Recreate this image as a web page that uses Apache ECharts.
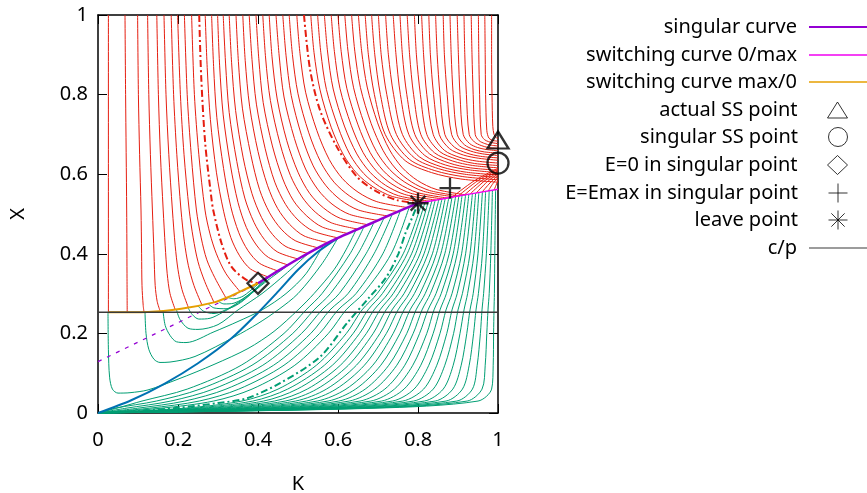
<!DOCTYPE html>
<html><head><meta charset="utf-8">
<script src="https://cdn.jsdelivr.net/npm/echarts@6/dist/echarts.min.js"></script>
<style>html,body{margin:0;padding:0;background:#fff}#c{width:867px;height:493px}</style>
</head><body><div id="c"></div>
<script>
// ---- tick labels ----
const xTicks = [0, 0.2, 0.4, 0.6, 0.8, 1];
const yTicks = [0, 0.2, 0.4, 0.6, 0.8, 1];

// ---- red trajectories (K, X) ----
const redLeft = [
 [[0.026,1],[0.026,0.253]],
 [[0.0675,1],[0.069,0.8],[0.0717,0.51],[0.0725,0.35],[0.073,0.253]],
 [[0.099,1],[0.101,0.8],[0.104,0.65],[0.1075,0.51],[0.109,0.4],[0.11,0.32],[0.113,0.27],[0.115,0.254]],
 [[0.124,1],[0.127,0.8],[0.131,0.65],[0.136,0.51],[0.14,0.4],[0.143,0.32],[0.148,0.28],[0.155,0.257]],
 [[0.147,1],[0.151,0.8],[0.156,0.65],[0.163,0.51],[0.168,0.42],[0.173,0.35],[0.18,0.3],[0.193,0.26]],
 [[0.165,1],[0.17,0.8],[0.177,0.65],[0.186,0.51],[0.193,0.42],[0.2,0.36],[0.21,0.31],[0.226,0.265]],
 [[0.183,1],[0.189,0.8],[0.197,0.65],[0.2075,0.51],[0.216,0.43],[0.226,0.37],[0.24,0.32],[0.26,0.271]],
 [[0.199,1],[0.206,0.8],[0.215,0.65],[0.228,0.51],[0.238,0.44],[0.25,0.38],[0.267,0.33],[0.29,0.278]],
 [[0.216,1],[0.223,0.8],[0.233,0.65],[0.246,0.51],[0.258,0.44],[0.272,0.385],[0.292,0.34],[0.32,0.289]],
 [[0.234,1],[0.241,0.8],[0.252,0.65],[0.2675,0.51],[0.28,0.45],[0.296,0.4],[0.32,0.35],[0.355,0.305]]
];
const redDashLeft = [[0.253,1],[0.258,0.845],[0.268,0.678],[0.283,0.544],[0.288,0.51],[0.309,0.426],[0.334,0.367],[0.372,0.334],[0.4,0.326]];
const redMid = [
 [[0.268,1],[0.273,0.868],[0.281,0.737],[0.296,0.605],[0.314,0.507],[0.332,0.441],[0.354,0.395],[0.381,0.362],[0.425,0.342]],
 [[0.284,1],[0.289,0.871],[0.297,0.743],[0.314,0.614],[0.332,0.518],[0.352,0.453],[0.375,0.408],[0.404,0.376],[0.45,0.357]],
 [[0.299,1],[0.304,0.874],[0.313,0.749],[0.331,0.623],[0.35,0.529],[0.371,0.466],[0.396,0.422],[0.426,0.391],[0.475,0.372]],
 [[0.313,1],[0.319,0.877],[0.328,0.755],[0.347,0.632],[0.367,0.54],[0.39,0.479],[0.416,0.436],[0.448,0.405],[0.5,0.387]],
 [[0.328,1],[0.334,0.88],[0.344,0.76],[0.363,0.641],[0.385,0.551],[0.409,0.491],[0.436,0.449],[0.47,0.418],[0.525,0.401]],
 [[0.345,1],[0.351,0.883],[0.361,0.766],[0.382,0.649],[0.404,0.561],[0.429,0.503],[0.458,0.462],[0.493,0.433],[0.55,0.415]],
 [[0.362,1],[0.368,0.886],[0.379,0.771],[0.4,0.657],[0.424,0.571],[0.449,0.514],[0.479,0.474],[0.515,0.445],[0.575,0.428]],
 [[0.378,1],[0.385,0.888],[0.396,0.776],[0.418,0.664],[0.442,0.58],[0.469,0.524],[0.5,0.485],[0.538,0.457],[0.6,0.44]],
 [[0.395,1],[0.402,0.89],[0.413,0.78],[0.436,0.671],[0.462,0.588],[0.489,0.533],[0.522,0.495],[0.561,0.467],[0.625,0.451]],
 [[0.412,1],[0.419,0.892],[0.431,0.785],[0.455,0.677],[0.481,0.597],[0.51,0.543],[0.543,0.505],[0.583,0.478],[0.65,0.462]],
 [[0.428,1],[0.435,0.895],[0.448,0.789],[0.472,0.684],[0.5,0.605],[0.529,0.552],[0.564,0.515],[0.606,0.489],[0.675,0.473]],
 [[0.445,1],[0.453,0.897],[0.465,0.794],[0.491,0.69],[0.519,0.613],[0.55,0.561],[0.585,0.525],[0.629,0.499],[0.7,0.484]],
 [[0.462,1],[0.47,0.899],[0.483,0.798],[0.509,0.697],[0.538,0.621],[0.57,0.571],[0.607,0.535],[0.651,0.51],[0.725,0.495]],
 [[0.478,1],[0.486,0.901],[0.5,0.802],[0.527,0.704],[0.557,0.63],[0.59,0.58],[0.628,0.546],[0.674,0.521],[0.75,0.506]],
 [[0.497,1],[0.505,0.903],[0.519,0.806],[0.547,0.71],[0.578,0.637],[0.611,0.589],[0.65,0.555],[0.697,0.531],[0.775,0.516]]
];
const redDashRight = [[0.515,1],[0.53,0.864],[0.555,0.761],[0.597,0.669],[0.647,0.594],[0.697,0.556],[0.747,0.535],[0.8,0.527]];
const redToSwitch = [
 [[0.532,1],[0.54,0.906],[0.555,0.812],[0.583,0.718],[0.614,0.648],[0.648,0.601],[0.688,0.568],[0.736,0.544],[0.815,0.53]],
 [[0.549,1],[0.557,0.906],[0.571,0.813],[0.6,0.719],[0.63,0.649],[0.664,0.602],[0.704,0.569],[0.751,0.546],[0.83,0.532]],
 [[0.566,1],[0.574,0.907],[0.588,0.814],[0.616,0.721],[0.647,0.651],[0.68,0.605],[0.719,0.572],[0.767,0.549],[0.845,0.535]],
 [[0.583,1],[0.591,0.908],[0.605,0.815],[0.633,0.723],[0.663,0.654],[0.697,0.607],[0.735,0.575],[0.782,0.552],[0.86,0.538]],
 [[0.6,1],[0.608,0.908],[0.622,0.816],[0.65,0.724],[0.68,0.655],[0.713,0.609],[0.751,0.577],[0.798,0.554],[0.875,0.54]],
 [[0.617,1],[0.625,0.909],[0.639,0.817],[0.666,0.726],[0.696,0.657],[0.729,0.612],[0.767,0.58],[0.814,0.557],[0.89,0.543]],
 [[0.634,1],[0.642,0.909],[0.656,0.818],[0.683,0.727],[0.713,0.659],[0.745,0.613],[0.783,0.581],[0.829,0.559],[0.905,0.545]],
 [[0.651,1],[0.659,0.91],[0.673,0.819],[0.699,0.729],[0.729,0.661],[0.761,0.616],[0.799,0.584],[0.845,0.562],[0.92,0.548]]
];
const redToEdge = [
 [[0.668,1],[0.676,0.9],[0.691,0.8],[0.718,0.7],[0.768,0.634],[0.834,0.604],[0.907,0.588],[1,0.58]],
 [[0.684,1],[0.692,0.9],[0.706,0.8],[0.731,0.7],[0.779,0.637],[0.842,0.609],[0.912,0.594],[1,0.586]],
 [[0.701,1],[0.708,0.9],[0.722,0.8],[0.746,0.7],[0.791,0.641],[0.851,0.614],[0.916,0.6],[1,0.592]],
 [[0.719,1],[0.726,0.9],[0.739,0.8],[0.761,0.7],[0.803,0.644],[0.86,0.618],[0.921,0.605],[1,0.598]],
 [[0.738,1],[0.745,0.9],[0.756,0.8],[0.777,0.7],[0.817,0.647],[0.869,0.623],[0.927,0.611],[1,0.604]],
 [[0.755,1],[0.761,0.9],[0.772,0.8],[0.792,0.7],[0.829,0.651],[0.878,0.628],[0.931,0.616],[1,0.61]],
 [[0.773,1],[0.779,0.9],[0.789,0.8],[0.807,0.7],[0.841,0.654],[0.887,0.633],[0.936,0.622],[1,0.616]],
 [[0.791,1],[0.796,0.9],[0.806,0.8],[0.822,0.7],[0.854,0.657],[0.896,0.638],[0.941,0.627],[1,0.622]],
 [[0.809,1],[0.814,0.9],[0.822,0.8],[0.838,0.7],[0.866,0.66],[0.905,0.642],[0.947,0.633],[1,0.628]],
 [[0.827,1],[0.831,0.9],[0.839,0.8],[0.853,0.7],[0.879,0.664],[0.914,0.648],[0.952,0.64],[1,0.635]],
 [[0.844,1],[0.848,0.9],[0.855,0.8],[0.867,0.7],[0.891,0.668],[0.922,0.653],[0.956,0.645],[1,0.641]],
 [[0.863,1],[0.866,0.9],[0.873,0.8],[0.884,0.7],[0.904,0.671],[0.932,0.658],[0.962,0.651],[1,0.647]],
 [[0.88,1],[0.883,0.9],[0.888,0.8],[0.898,0.7],[0.916,0.674],[0.94,0.662],[0.966,0.656],[1,0.653]],
 [[0.898,1],[0.901,0.9],[0.905,0.8],[0.913,0.7],[0.929,0.677],[0.949,0.667],[0.971,0.662],[1,0.659]],
 [[0.915,1],[0.917,0.9],[0.921,0.8],[0.928,0.7],[0.941,0.681],[0.958,0.672],[0.976,0.667],[1,0.665]],
 [[0.933,1],[0.935,0.9],[0.938,0.8],[0.943,0.7],[0.953,0.684],[0.967,0.677],[0.981,0.673],[1,0.671]],
 [[0.951,1],[0.952,0.9],[0.954,0.8],[0.958,0.7],[0.966,0.687],[0.976,0.682],[0.986,0.679],[1,0.677]],
 [[0.967,1],[0.968,0.9],[0.969,0.8],[0.972,0.71],[0.977,0.691],[0.984,0.686],[0.991,0.684],[1,0.683]],
 [[0.984,1],[0.984,0.9],[0.985,0.8],[0.987,0.72],[0.99,0.7],[0.994,0.693],[0.997,0.691],[1,0.69]]
];
const redFan = [
 [[0.885,0.542],[0.94,0.583],[1,0.615]],
 [[0.9,0.545],[0.95,0.584],[1,0.612]],
 [[0.915,0.547],[0.958,0.583],[1,0.609]],
 [[0.93,0.55],[0.965,0.582],[1,0.605]],
 [[0.945,0.552],[0.972,0.58],[1,0.601]],
 [[0.96,0.555],[0.98,0.578],[1,0.597]],
 [[0.975,0.557],[0.987,0.576],[1,0.592]],
 [[0.99,0.56],[0.995,0.572],[1,0.585]]
];

// ---- green trajectories (K, X) ----
const greenU = [
 [[0.025,0.253],[0.026,0.16],[0.029,0.09],[0.036,0.06],[0.05,0.05],[0.08,0.051],[0.125,0.058],[0.2,0.085],[0.29,0.122],[0.375,0.162],[0.44,0.205],[0.5,0.259],[0.54,0.3],[0.59,0.36],[0.62,0.41],[0.645,0.46]],
 [[0.1175,0.254],[0.12,0.2],[0.127,0.16],[0.14,0.135],[0.155,0.127],[0.18,0.128],[0.2425,0.142],[0.3425,0.192],[0.4,0.225],[0.45,0.259],[0.5,0.3],[0.56,0.375],[0.6,0.44]],
 [[0.1625,0.258],[0.168,0.22],[0.18,0.195],[0.196,0.179],[0.22,0.177],[0.29,0.204],[0.35,0.23],[0.41,0.259],[0.47,0.3],[0.52,0.35],[0.565,0.425]],
 [[0.196,0.26],[0.205,0.235],[0.225,0.213],[0.25,0.21],[0.3,0.222],[0.35,0.259],[0.41,0.3],[0.47,0.35],[0.53,0.405]],
 [[0.225,0.265],[0.235,0.248],[0.252,0.236],[0.28,0.238],[0.31,0.252],[0.36,0.282],[0.42,0.33],[0.49,0.382]],
 [[0.25,0.269],[0.265,0.255],[0.29,0.25],[0.33,0.265],[0.38,0.3],[0.44,0.352]],
 [[0.275,0.275],[0.29,0.264],[0.32,0.262],[0.36,0.28],[0.43,0.345]],
 [[0.3,0.281],[0.315,0.274],[0.34,0.276],[0.38,0.3],[0.42,0.339]],
 [[0.325,0.29],[0.34,0.287],[0.365,0.295],[0.41,0.333]]
];
const greenFan = [
 [[0,0],[0.05,0.013],[0.11,0.03],[0.223,0.06],[0.358,0.12],[0.465,0.2],[0.52,0.259],[0.56,0.3],[0.63,0.4],[0.665,0.468]],
 [[0,0],[0.042,0.012],[0.146,0.03],[0.255,0.06],[0.385,0.12],[0.487,0.2],[0.54,0.259],[0.581,0.3],[0.65,0.4],[0.69,0.479]],
 [[0,0],[0.07,0.012],[0.182,0.03],[0.288,0.06],[0.412,0.12],[0.509,0.2],[0.56,0.259],[0.603,0.3],[0.67,0.4],[0.715,0.49]],
 [[0,0],[0.099,0.012],[0.217,0.03],[0.32,0.06],[0.439,0.12],[0.532,0.2],[0.58,0.259],[0.625,0.3],[0.69,0.4],[0.735,0.498]],
 [[0,0],[0.128,0.012],[0.253,0.03],[0.352,0.06],[0.465,0.12],[0.554,0.2],[0.6,0.259],[0.645,0.3],[0.712,0.4],[0.755,0.506]],
 [[0,0],[0.157,0.012],[0.289,0.03],[0.385,0.06],[0.492,0.12],[0.576,0.2],[0.62,0.259],[0.663,0.3],[0.733,0.4],[0.778,0.517]],
 [[0,0],[0.215,0.012],[0.36,0.03],[0.45,0.06],[0.546,0.12],[0.621,0.2],[0.66,0.259],[0.698,0.3],[0.763,0.4],[0.81,0.529]],
 [[0,0],[0.236,0.012],[0.387,0.03],[0.474,0.06],[0.566,0.12],[0.638,0.2],[0.675,0.259],[0.711,0.3],[0.773,0.4],[0.818,0.531]],
 [[0,0],[0.258,0.012],[0.414,0.03],[0.498,0.06],[0.586,0.12],[0.654,0.2],[0.69,0.259],[0.725,0.3],[0.784,0.4],[0.826,0.532]],
 [[0,0],[0.279,0.012],[0.441,0.03],[0.523,0.06],[0.606,0.12],[0.671,0.2],[0.705,0.259],[0.738,0.3],[0.794,0.4],[0.835,0.534]],
 [[0,0],[0.301,0.012],[0.468,0.03],[0.547,0.06],[0.626,0.12],[0.688,0.2],[0.72,0.259],[0.751,0.3],[0.805,0.4],[0.843,0.535]],
 [[0,0],[0.323,0.012],[0.494,0.03],[0.571,0.06],[0.646,0.12],[0.705,0.2],[0.735,0.259],[0.765,0.3],[0.815,0.4],[0.852,0.536]],
 [[0,0],[0.344,0.012],[0.521,0.03],[0.595,0.06],[0.666,0.12],[0.721,0.2],[0.75,0.259],[0.778,0.3],[0.825,0.4],[0.86,0.538]],
 [[0,0],[0.366,0.012],[0.548,0.03],[0.62,0.06],[0.687,0.12],[0.738,0.2],[0.765,0.259],[0.791,0.3],[0.836,0.4],[0.868,0.539]],
 [[0,0],[0.387,0.012],[0.575,0.03],[0.644,0.06],[0.707,0.12],[0.755,0.2],[0.78,0.259],[0.805,0.3],[0.846,0.4],[0.877,0.541]],
 [[0,0],[0.409,0.012],[0.602,0.03],[0.668,0.06],[0.727,0.12],[0.772,0.2],[0.795,0.259],[0.818,0.3],[0.857,0.4],[0.885,0.542]],
 [[0,0],[0.431,0.012],[0.628,0.03],[0.692,0.06],[0.747,0.12],[0.788,0.2],[0.81,0.259],[0.831,0.3],[0.867,0.4],[0.894,0.544]],
 [[0,0],[0.452,0.012],[0.655,0.03],[0.717,0.06],[0.767,0.12],[0.804,0.2],[0.825,0.259],[0.845,0.3],[0.878,0.4],[0.902,0.545]],
 [[0,0],[0.474,0.012],[0.682,0.03],[0.741,0.06],[0.787,0.12],[0.822,0.2],[0.84,0.259],[0.858,0.3],[0.888,0.4],[0.91,0.546]],
 [[0,0],[0.496,0.012],[0.709,0.03],[0.765,0.06],[0.807,0.12],[0.838,0.2],[0.855,0.259],[0.871,0.3],[0.898,0.4],[0.919,0.548]],
 [[0,0],[0.517,0.012],[0.736,0.03],[0.79,0.06],[0.827,0.12],[0.855,0.2],[0.87,0.259],[0.885,0.3],[0.909,0.4],[0.927,0.549]],
 [[0,0],[0.539,0.012],[0.762,0.03],[0.814,0.06],[0.847,0.12],[0.872,0.2],[0.885,0.259],[0.898,0.3],[0.919,0.4],[0.936,0.551]],
 [[0,0],[0.56,0.012],[0.789,0.03],[0.838,0.06],[0.867,0.12],[0.889,0.2],[0.9,0.259],[0.911,0.3],[0.93,0.4],[0.944,0.552]],
 [[0,0],[0.582,0.012],[0.816,0.03],[0.863,0.06],[0.888,0.12],[0.905,0.2],[0.915,0.259],[0.924,0.3],[0.94,0.4],[0.952,0.553]],
 [[0,0],[0.604,0.012],[0.843,0.03],[0.887,0.06],[0.908,0.12],[0.922,0.2],[0.93,0.259],[0.938,0.3],[0.95,0.4],[0.961,0.555]],
 [[0,0],[0.625,0.012],[0.87,0.03],[0.911,0.06],[0.928,0.12],[0.939,0.2],[0.945,0.259],[0.951,0.3],[0.961,0.4],[0.969,0.556]],
 [[0,0],[0.647,0.012],[0.897,0.03],[0.936,0.06],[0.948,0.12],[0.956,0.2],[0.96,0.259],[0.964,0.3],[0.971,0.4],[0.978,0.558]],
 [[0,0],[0.668,0.012],[0.923,0.03],[0.96,0.06],[0.968,0.12],[0.972,0.2],[0.975,0.259],[0.978,0.3],[0.982,0.4],[0.986,0.559]],
 [[0,0],[0.69,0.012],[0.95,0.03],[0.984,0.06],[0.988,0.12],[0.989,0.2],[0.99,0.259],[0.991,0.3],[0.992,0.4],[0.994,0.561]]
];
const greenDash = [[0,0],[0.1,0.005],[0.2,0.013],[0.3,0.025],[0.372,0.037],[0.455,0.075],[0.555,0.141],[0.622,0.225],[0.676,0.288],[0.72,0.34],[0.751,0.4],[0.768,0.45],[0.785,0.49],[0.8,0.527]];

// ---- special curves ----
const singularCurve = [[0.4,0.326],[0.45,0.357],[0.5,0.387],[0.55,0.415],[0.6,0.44],[0.65,0.462],[0.7,0.484],[0.75,0.506],[0.8,0.527]];
const singularExt = [[0,0.129],[0.4,0.325]];
const switch0max = [[0.8,0.527],[0.9,0.545],[1,0.562]];
const switchMax0 = [[0.025,0.253],[0.125,0.254],[0.208,0.262],[0.29,0.278],[0.33,0.293],[0.355,0.305],[0.4,0.326]];
const blueCurve = [[0,0],[0.083,0.032],[0.167,0.074],[0.25,0.125],[0.333,0.187],[0.4,0.252],[0.45,0.305],[0.5,0.36],[0.55,0.405],[0.6,0.44]];
const cpLine = [[0,0.253],[1,0.253]];

// ---- points ----
const actualSS = [[1,0.686]];
const singularSS = [[1,0.628]];
const e0Point = [[0.4,0.326]];
const emaxPoint = [[0.88,0.565]];
const leavePoint = [[0.8,0.527]];

const RED = '#e51e10', GREEN = '#009e73';
const FONT = 'Noto Sans';
const series = [];
function curve(data, color, width, type, z, name, smooth){
  series.push({type:'line', name: name, data: data, showSymbol:false, symbol:'none',
    smooth: smooth === undefined ? 0.3 : smooth, clip:true,
    lineStyle:{color:color, width:width, type:type||'solid'}, itemStyle:{color:color},
    z:z, silent:true, animation:false});
}
redLeft.forEach(d=>curve(d, RED, 1, 'solid', 2));
redMid.forEach(d=>curve(d, RED, 1, 'solid', 2));
redToSwitch.forEach(d=>curve(d, RED, 1, 'solid', 2));
redToEdge.forEach(d=>curve(d, RED, 1, 'solid', 2));
redFan.forEach(d=>curve(d, RED, 1, 'solid', 2));
curve(redDashLeft, RED, 2, [7,3,2,3], 3);
curve(redDashRight, RED, 2, [7,3,2,3], 3);
greenU.forEach(d=>curve(d, GREEN, 1, 'solid', 2));
greenFan.forEach(d=>curve(d, GREEN, 1, 'solid', 2));
curve(greenDash, GREEN, 2, [7,3,2,3], 3);
curve(blueCurve, '#0072b2', 2, 'solid', 4);
curve(singularExt, '#9400d3', 1.2, [4,6], 4, undefined, 0);
curve(singularCurve, '#9400d3', 2.5, 'solid', 5, 'singular curve');
curve(switch0max, '#f000f0', 1.5, 'solid', 5, 'switching curve 0/max');
curve(switchMax0, '#e69f00', 2, 'solid', 5, 'switching curve max/0');
curve(cpLine, '#3a3a3a', 1.5, 'solid', 6, 'c/p', 0);

function pts(data, name, symbol, size){
  series.push({type:'scatter', name:name, data:data, symbol:symbol, symbolSize:size, clip:false,
    itemStyle:{color:'rgba(0,0,0,0)', borderColor:'#000', borderWidth:2.3}, z:10, silent:true, animation:false});
}
const PLUS = 'path://M10,0L10,20M0,10L20,10';
const STAR = 'path://M10,0L10,20M0,10L20,10M3,3L17,17M3,17L17,3';
pts(actualSS, 'actual SS point', 'triangle', [21,17]);
pts(singularSS, 'singular SS point', 'circle', 21);
pts(e0Point, 'E=0 in singular point', 'diamond', 21);
pts(emaxPoint, 'E=Emax in singular point', PLUS, 21);
pts(leavePoint, 'leave point', STAR, 21);

// legend rows
const legendNames = ['singular curve','switching curve 0/max','switching curve max/0','actual SS point','singular SS point','E=0 in singular point','E=Emax in singular point','leave point','c/p'];
const legendIcons = ['rect','rect','rect','triangle','circle','diamond',PLUS,STAR,'rect'];
const legendThick = [2,1.5,1.5,0,0,0,0,0,1.2];
const legendY = [28,56,83,111,138,166,194,221,249];
const legends = legendNames.map((n,i)=>{
  const isLine = legendIcons[i]==='rect';
  return {
    data:[{name:n, icon:legendIcons[i]}], right: isLine?0:19, top:legendY[i]-11, orient:'vertical', align:'right', padding:0,
    itemWidth: isLine?58:20, itemHeight: isLine?legendThick[i]:(i===3?16:19), itemGap:0, selectedMode:false,
    itemStyle: isLine?{}:{borderWidth:1, color:'rgba(0,0,0,0)', borderColor:'#000'},
    textStyle:{fontFamily:FONT, fontSize:20, color:'#000', padding:[0, isLine?7:25, 0, 0]}
  };
});

const axisCommon = {min:0, max:1, interval:0.2, splitLine:{show:false},
  axisLine:{show:true, onZero:false, lineStyle:{color:'#000', width:1.5}},
  axisTick:{show:true, inside:true, length:9, lineStyle:{color:'#000', width:1}}};

const chart = echarts.init(document.getElementById('c'), null, {renderer:'canvas'});
chart.setOption({
  animation:false,
  backgroundColor:'#fff',
  grid:{left:98, right:369, top:15, bottom:80, containLabel:false, outerBoundsMode:'none'},
  legend: legends,
  xAxis:[
    Object.assign({type:'value', position:'bottom', name:'K', nameLocation:'middle', nameGap:61,
      nameTextStyle:{fontFamily:FONT, fontSize:20, color:'#000'},
      axisLabel:{fontFamily:FONT, fontSize:20, color:'#000', margin:17,
        formatter:v=>xTicks.indexOf(Math.round(v*10)/10)>=0 ? String(Math.round(v*10)/10) : ''}}, axisCommon),
    Object.assign({type:'value', position:'top', axisLabel:{show:false}}, axisCommon)
  ],
  yAxis:[
    Object.assign({type:'value', position:'left', name:'X', nameLocation:'middle', nameGap:70,
      nameTextStyle:{fontFamily:FONT, fontSize:20, color:'#000'},
      axisLabel:{fontFamily:FONT, fontSize:20, color:'#000', margin:10,
        formatter:v=>yTicks.indexOf(Math.round(v*10)/10)>=0 ? String(Math.round(v*10)/10) : ''}}, axisCommon),
    Object.assign({type:'value', position:'right', axisLabel:{show:false}}, axisCommon)
  ],
  series: series
});
</script></body></html>
